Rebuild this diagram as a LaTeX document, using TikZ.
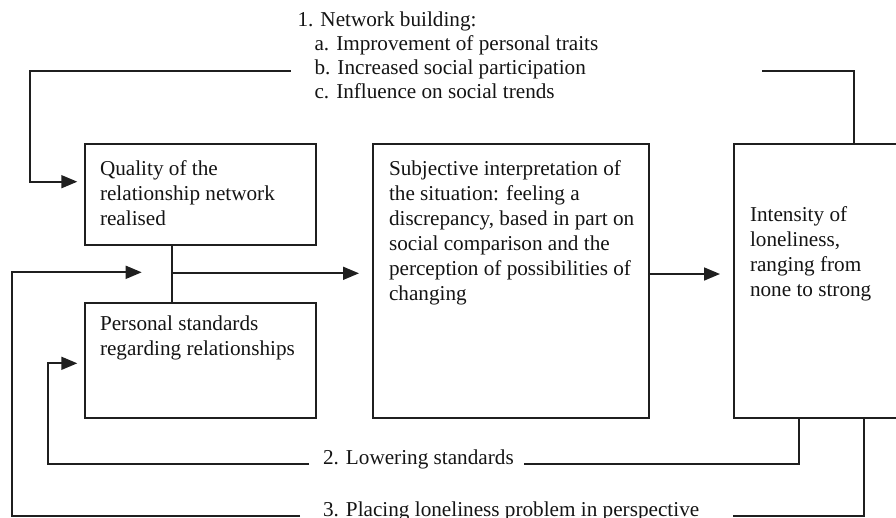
\documentclass[tikz,border=0pt]{standalone}
\usepackage{fontspec}
\setmainfont{Liberation Serif}
\usetikzlibrary{arrows.meta}
\tikzset{
  ink/.style={draw=black!88, line width=1.7pt},
  boxshape/.style={ink, rectangle, inner sep=0pt, outer sep=0pt, anchor=north west},
  txt/.style={anchor=north west, inner sep=0pt, outer sep=0pt, align=left, text=black!92, font=\fontsize{21.2}{25}\selectfont},
  arr/.style={ink, -{Triangle[length=16pt,width=13pt]}},
}
\begin{document}
\begin{tikzpicture}[x=1pt,y=-1pt]
\useasboundingbox (0,0) rectangle (896,517);
% boxes
\node[boxshape, minimum width=231pt, minimum height=100.7pt] (q) at (85,144.3) {};
\node[boxshape, minimum width=231pt, minimum height=115pt] (p) at (85,302.7) {};
\node[boxshape, minimum width=275.7pt, minimum height=273.4pt] (s) at (373,144.3) {};
\node[boxshape, minimum width=175pt, minimum height=273.4pt] (i) at (734.3,144.3) {};
% box texts
\node[txt] (qt) at (100,157.5) {\strut Quality of the\\relationship network\\realised};
\node[txt] (pt) at (100,312.5) {\strut Personal standards\\regarding relationships};
\node[txt] (st) at (389,157.5) {\strut Subjective interpretation of\\the situation: feeling a\\discrepancy, based in part on\\social comparison and the\\perception of possibilities of\\changing};
\node[txt] (it) at (750,204) {\strut Intensity of\\loneliness,\\ranging from\\none to strong};
% labels
\node[txt, font=\fontsize{21.2}{24}\selectfont] (l1) at (297.5,9.2) {\strut 1. Network building:\\\hspace*{17pt}a. Improvement of personal traits\\\hspace*{17pt}b. Increased social participation\\\hspace*{17pt}c. Influence on social trends};
\node[txt, anchor=base west] (l2) at (323,464) {2. Lowering standards};
\node[txt, anchor=base west] (l3) at (323,516) {3. Placing loneliness problem in perspective};
% coordinates
\coordinate (v1) at (854,71.3);
\coordinate (t1r) at (761.7,71.3);
\coordinate (t1l) at (290.7,71.3);
\coordinate (c1) at (30,71.3);
\coordinate (a1) at (77.3,181.7);
\coordinate (v2) at (799,464.3);
\coordinate (t2r) at (524,464.3);
\coordinate (t2l) at (309,464.3);
\coordinate (c2) at (48.3,464.3);
\coordinate (a2) at (77.3,363.3);
\coordinate (v3) at (864,515.7);
\coordinate (t3r) at (733.3,515.7);
\coordinate (t3l) at (300,515.7);
\coordinate (c3) at (12,515.7);
\coordinate (a3) at (141.7,272.3);
\coordinate (j) at (171.7,273.3);
\coordinate (a4) at (359,273.3);
\coordinate (a5) at (720,274);
% connectors
\draw[ink] (j |- q.south) -- (j |- p.north);
\draw[arr] (j) -- (a4);
\draw[arr] (s.east |- a5) -- (a5);
\draw[ink] (v1 |- i.north) -- (v1) -- (t1r);
\draw[arr] (t1l) -- (c1) |- (a1);
\draw[ink] (v2 |- i.south) -- (v2) -- (t2r);
\draw[arr] (t2l) -- (c2) |- (a2);
\draw[ink] (v3 |- i.south) -- (v3) -- (t3r);
\draw[arr] (t3l) -- (c3) |- (a3);
\end{tikzpicture}
\end{document}
